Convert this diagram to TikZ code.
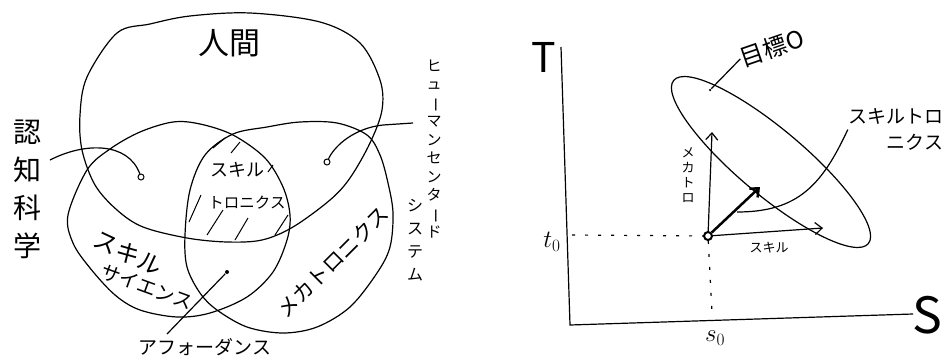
\documentclass[tikz,border=0pt]{standalone}
\usepackage{fontspec}
\newfontfamily\jp{Noto Sans CJK JP}
\usetikzlibrary{arrows.meta}
\newcommand{\vchoon}{\rotatebox[origin=c]{-90}{ー}}

\tikzset{
  jtext/.style={font=\jp\fontsize{#1}{#1}\selectfont, inner sep=0pt},
  jlines/.style 2 args={font=\jp\fontsize{#1}{#2}\selectfont, inner sep=0pt},
  jcol/.style 2 args={font=\jp\fontsize{#1}{#2}\selectfont, align=center, inner sep=0pt},
  pindot/.style={circle, draw, inner sep=0pt, minimum size=6pt, line width=1pt},
  vec/.style={-{Straight Barb[length=7pt,width=12pt]}},
}

\begin{document}
\begin{tikzpicture}[x=1pt,y=-1pt,line width=1.2pt]
\useasboundingbox (0,0) rectangle (947,361);

\draw plot[smooth cycle,tension=0.55] coordinates {(150,24) (117,33) (87,77) (80,115) (82,150) (95,185) (117,210) (143,227) (187,238) (227,242) (262,240) (293,227) (330,200) (350,178) (370,143) (382,110) (380,80) (360,43) (320,22) (250,13) (190,16)};
\draw plot[smooth cycle,tension=0.55] coordinates {(68,215) (73,243) (90,268) (115,295) (140,310) (177,317) (210,313) (247,297) (273,272) (287,240) (290,215) (283,187) (265,158) (233,135) (200,124) (173,122) (140,132) (110,149) (87,170)};
\draw plot[smooth cycle,tension=0.55] coordinates {(185,235) (187,267) (200,293) (217,310) (247,327) (283,333) (317,327) (350,307) (377,273) (390,247) (393,213) (388,183) (380,155) (367,135) (337,123) (300,122) (267,127) (233,134) (205,155) (190,190)};

\draw[line width=1pt] (213,148) -- (225,138) (231,153) -- (240,142) (268,172) -- (273,165)
  (189,222) -- (201,195) (207,235) -- (223,210) (235,240) -- (248,218) (275,235) -- (288,215);

\node[jtext=31] (human) at (229,43) {人間};
\node[jcol={28}{38}] (cogsci) at (27,189) {認\\知\\科\\学};
\node[jcol={15}{18.5}] (hcs) at (434,149) {ヒ\\ュ\\\vchoon\\マ\\ン\\セ\\ン\\タ\\\vchoon\\ド};
\node[jcol={16}{23}] (sys) at (415,240) {シ\\ス\\テ\\ム};
\node[jtext=24,rotate=-25] (skillsci) at (128,253) {スキル};
\node[jtext=19.5,rotate=-20] (science) at (147,287) {サイエンス};
\node[jtext=21,rotate=45] (mecha) at (333,262) {メカトロニクス};
\node[jtext=18] (stup) at (237,170) {スキル};
\node[jtext=15.5] (stlow) at (247,203) {トロニクス};
\node[jtext=19] (afford) at (205,347) {アフォーダンス};

\node[pindot] (cogdot) at (141,177) {};
\node[pindot] (hcsdot) at (327,162) {};
\node[circle,fill,inner sep=0pt,minimum size=4pt] (affdot) at (227,272) {};
\coordinate (cogstart) at (50,160);
\coordinate (hcsstart) at (413,123);
\coordinate (affstart) at (167,334);
\draw (cogstart) .. controls (85,142) and (128,142) .. (cogdot);
\draw (hcsstart) -- (383,125) .. controls (355,128) and (335,145) .. (hcsdot);
\draw (affstart) -- (affdot);

\coordinate (ttop) at (561,47);
\coordinate (corner) at (570,325);
\coordinate (sright) at (913,314);
\draw (ttop) -- (corner) -- (sright);
\node[jtext=41] (Tlab) at (544,57) {T};
\node[jtext=50] (Slab) at (927,315) {S};
\node[font=\fontsize{24}{24}\selectfont,inner sep=0pt] (t0) at (552,242) {$t_0$};
\node[font=\fontsize{24}{24}\selectfont,inner sep=0pt] (s0) at (715,338) {$s_0$};

\node[circle,draw,line width=2pt,minimum size=8pt,inner sep=0pt] (o) at (708,236) {};
\coordinate (t0axis) at (572,235);
\coordinate (s0axis) at (712,313);
\draw[dash pattern=on 3pt off 10pt] (t0axis) -- (o) -- (s0axis);

\draw[rotate around={-40:(771,162)}] (771,162) ellipse (127 and 33);

\coordinate (mtip) at (712,132);
\coordinate (stip) at (823,228);
\coordinate (dtip) at (760,187);
\draw[vec] (o) -- (mtip);
\draw[vec] (o) -- (stip);
\draw[vec,line width=2.5pt] (o) -- (dtip);
\node[jcol={13}{15}] (mlab) at (688,175) {メ\\カ\\ト\\ロ};
\node[jtext=13] (slab) at (769,248) {スキル};

\node[jtext=24,rotate=19] (goal) at (772,48) {目標O};
\node[circle,fill,inner sep=0pt,minimum size=2.5pt] (goaldot) at (710,90) {};
\draw (goal.west) -- (goaldot);

\node[jlines={19}{26},align=right,anchor=north east] (stlab) at (944,108) {スキルトロ\\ニクス};
\coordinate (stend) at (737,212);
\draw (stlab.west) .. controls (822,185) and (798,212) .. (stend);
\end{tikzpicture}
\end{document}
